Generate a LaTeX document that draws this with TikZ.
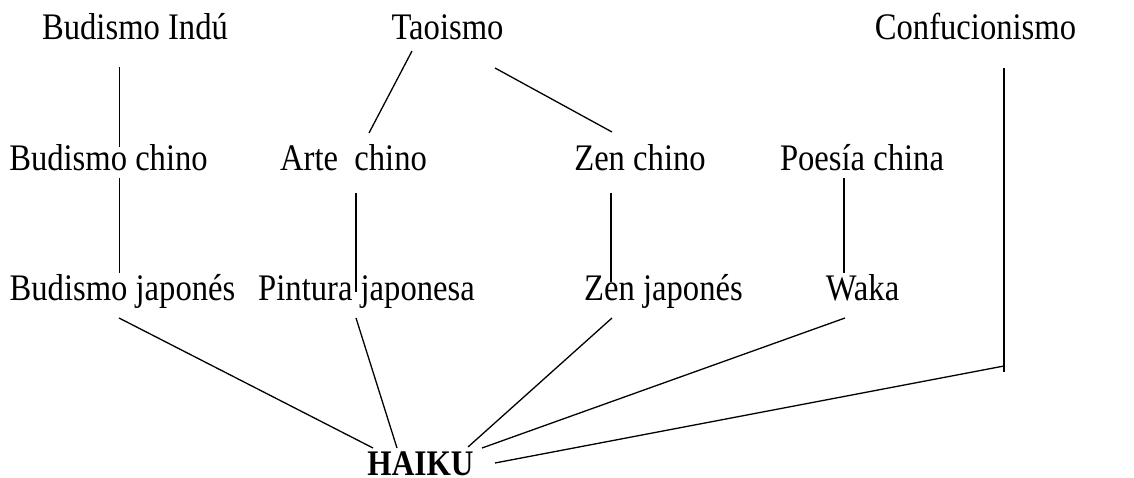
\documentclass[tikz,border=0pt]{standalone}
\usepackage{fontspec}
\setmainfont[FakeStretch=0.87]{Liberation Serif}
\begin{document}
\begin{tikzpicture}[x=1pt,y=-1pt,
  lbl/.style={anchor=base,inner sep=0pt,font=\fontsize{37.5}{40}\selectfont},
  link/.style={line width=1.3pt,line cap=butt}]
\useasboundingbox (0,0) rectangle (1134,478);

% top row
\node[lbl] (bi) at (135,40) {Budismo Indú};
\node[lbl] (tao) at (447.5,40) {Taoismo};
\node[lbl] (conf) at (975.5,40) {Confucionismo};
% middle row
\node[lbl] (bc) at (108.5,171) {Budismo chino};
\node[lbl] (ac) at (353.5,171) {Arte\ \ chino};
\node[lbl] (zc) at (640,171) {Zen chino};
\node[lbl] (pc) at (862,171) {Poesía china};
% bottom row
\node[lbl] (bj) at (122.5,300) {Budismo japonés};
\node[lbl] (pj) at (366.5,300) {Pintura japonesa};
\node[lbl] (zj) at (663.5,300) {Zen japonés};
\node[lbl] (wk) at (862.5,300) {Waka};
\node[lbl,font=\fontsize{36}{40}\selectfont\bfseries] (haiku) at (420.5,475) {HAIKU};

% line end points
\coordinate (bi-a) at (119.5,67);   \coordinate (bi-b) at (119.5,147);
\coordinate (bc-a) at (119.5,178);  \coordinate (bc-b) at (119.5,273);
\coordinate (ta-a) at (412,51);     \coordinate (ta-b) at (369,133);
\coordinate (tz-a) at (495,68);     \coordinate (tz-b) at (612,132);
\coordinate (ac-a) at (356,193);    \coordinate (ac-b) at (356,292);
\coordinate (zc-a) at (611,193);    \coordinate (zc-b) at (611,282);
\coordinate (pc-a) at (844,178);    \coordinate (pc-b) at (844,273);
\coordinate (cf-a) at (1004,68);    \coordinate (cf-b) at (1004,372);
\coordinate (bj-a) at (119,318);    \coordinate (bj-b) at (373,448);
\coordinate (pj-a) at (356,318);    \coordinate (pj-b) at (397,448);
\coordinate (zj-a) at (612,318);    \coordinate (zj-b) at (468,447);
\coordinate (wk-a) at (845,318);    \coordinate (wk-b) at (482,448);
\coordinate (ch-a) at (1004,366);   \coordinate (ch-b) at (495,463);

\draw[link] (bi-a) -- (bi-b);
\draw[link] (bc-a) -- (bc-b);
\draw[link] (ta-a) -- (ta-b);
\draw[link] (tz-a) -- (tz-b);
\draw[link] (ac-a) -- (ac-b);
\draw[link] (zc-a) -- (zc-b);
\draw[link] (pc-a) -- (pc-b);
\draw[link] (cf-a) -- (cf-b);
\draw[link] (bj-a) -- (bj-b);
\draw[link] (pj-a) -- (pj-b);
\draw[link] (zj-a) -- (zj-b);
\draw[link] (wk-a) -- (wk-b);
\draw[link] (ch-a) -- (ch-b);
\end{tikzpicture}
\end{document}
